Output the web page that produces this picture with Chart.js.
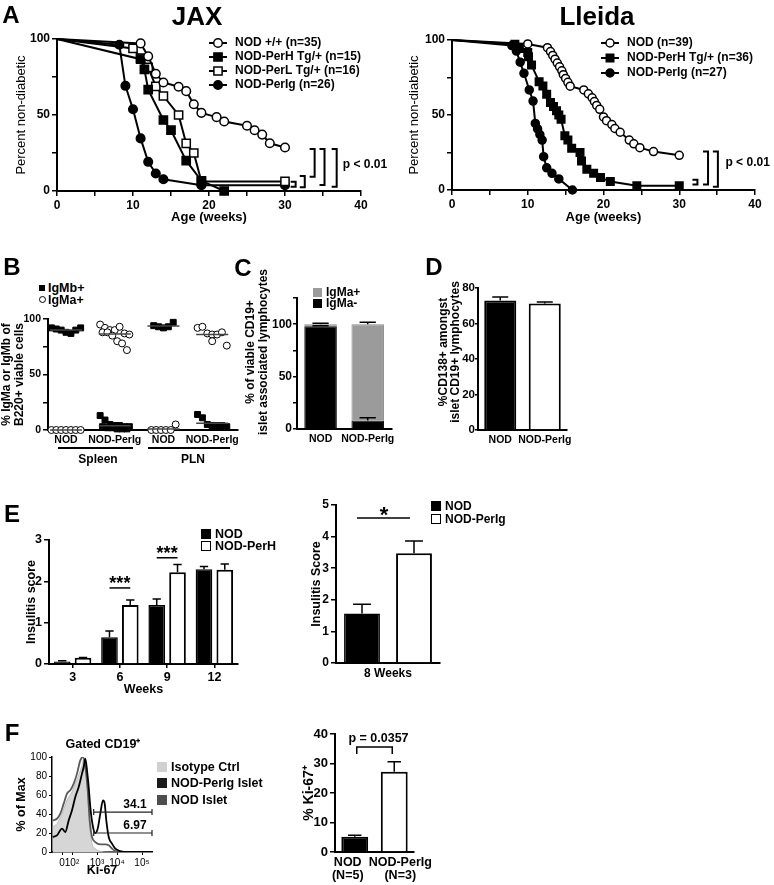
<!DOCTYPE html>
<html lang="en">
<head>
<meta charset="utf-8">
<title>Figure</title>
<script src="https://cdn.jsdelivr.net/npm/chart.js@4.4.1/dist/chart.umd.min.js"></script>
<style>
  html, body { margin: 0; padding: 0; background: #fff; }
  #fig { position: relative; width: 774px; height: 885px; overflow: hidden; background: #fff;
         font-family: 'Liberation Sans', Arial, sans-serif; color: #000; }
  #fig canvas { position: absolute; }
  .txt { position: absolute; white-space: nowrap; font-weight: bold; line-height: 1; }
  .mid { transform: translate(-50%, -50%); }
  .lft { transform: translateY(-50%); }
  .vert { transform: translate(-50%, -50%) rotate(-90deg); }
  .sw { position: absolute; box-sizing: border-box; }
  .rule { position: absolute; height: 0; border-top: 2px solid #000; }
</style>
</head>
<body>
<div id="fig">
  <canvas id="jaxChart"></canvas>
  <canvas id="lleidaChart"></canvas>
  <canvas id="igmChart"></canvas>
  <canvas id="isletChart"></canvas>
  <canvas id="cd138Chart"></canvas>
  <canvas id="insulitisChart"></canvas>
  <canvas id="insulitis8Chart"></canvas>
  <canvas id="histChart"></canvas>
  <canvas id="ki67Chart"></canvas>
</div>
<script>
// --- Panel A: percent non-diabetic, JAX colony ---
const jaxNodWeeks   = [0, 11, 12, 13, 14, 16, 17, 18, 19, 21, 22, 25, 26, 27, 28, 30];
const jaxNodPct     = [100, 97.1, 88.6, 77.1, 71.4, 68.6, 65.7, 57.1, 51.4, 48.6, 45.7, 42.9, 40.0, 37.1, 31.4, 28.6];
const jaxPerHWeeks  = [0, 11, 11.5, 12, 14, 15, 17, 19, 22];
const jaxPerHPct    = [100, 86.7, 80.0, 66.7, 46.7, 40.0, 20.0, 6.7, 0];
const jaxPerLWeeks  = [0, 10, 11, 12, 13, 14, 16, 17, 18, 19, 30];
const jaxPerLPct    = [100, 93.8, 87.5, 81.3, 68.8, 62.5, 50.0, 31.3, 25.0, 6.3, 6.3];
const jaxPerIgWeeks = [0, 8.2, 9, 10, 11, 12, 13, 14, 19, 30];
const jaxPerIgPct   = [100, 96.2, 69.2, 53.8, 34.6, 19.2, 11.5, 7.7, 3.8, 3.8];

// --- Panel A: Lleida colony ---
const lleNodWeeks   = [0, 10, 12.6, 13, 13.3, 13.6, 13.9, 14.2, 14.5, 14.7, 15, 15.3, 15.6, 17.4, 18, 18.5, 18.8, 19.1, 19.5, 20, 20.4, 21.1, 21.5, 22.2, 23.4, 24, 24.8, 26.6, 30];
const lleNodPct     = [100, 97.4, 94.9, 92.3, 89.7, 87.2, 84.6, 82.1, 79.5, 76.9, 74.4, 71.8, 69.2, 66.7, 64.1, 61.5, 59.0, 56.4, 53.8, 48.7, 46.2, 43.6, 41.0, 38.5, 33.3, 30.8, 28.2, 25.6, 23.1];
const llePerHWeeks  = [0, 8.3, 8.9, 10.0, 10.1, 10.5, 11.5, 12.0, 12.5, 13.0, 13.4, 13.8, 14.1, 14.4, 14.9, 15.3, 15.8, 16.9, 17.1, 17.8, 18.7, 19.6, 20.9, 24.4, 30];
const llePerHPct    = [100, 97.2, 94.4, 91.7, 88.9, 83.3, 72.2, 69.4, 63.9, 58.3, 55.6, 52.8, 50.0, 47.2, 36.1, 33.3, 27.8, 25.0, 19.4, 13.9, 11.1, 8.3, 5.6, 2.8, 2.8];
const llePerIgWeeks = [0, 7.9, 8.5, 9.0, 9.5, 10.2, 10.7, 11.0, 11.3, 11.6, 11.9, 12.1, 12.5, 13.2, 14.1, 15.9];
const llePerIgPct   = [100, 96.3, 92.6, 85.2, 77.8, 66.7, 59.3, 44.4, 40.7, 37.0, 33.3, 22.2, 14.8, 11.1, 7.4, 0];

// --- Panel B: IgMa / IgMb allotype, one value per mouse ---
const igmGroups = ['NOD', 'NOD-PerIg', 'NOD', 'NOD-PerIg'];
const igmbPct = [
  [92, 91, 90, 88, 87, 90, 92],
  [13, 9, 5, 4, 4, 3, 3, 3, 2, 2, 1, 1, 1],
  [94, 93, 92, 93, 97],
  [14, 11, 5, 4, 4, 4, 3, 4]
];
const igmaPct = [
  [0, 0, 0, 0, 0, 0, 0],
  [95, 92, 90, 90, 93, 87, 86, 88, 88, 85, 80, 78, 72],
  [0, 0, 0, 0, 0, 5],
  [92, 93, 87, 86, 86, 88, 76, 80]
];

// --- Panel C: islet CD19+ cells ---
const isletGroups = ['NOD', 'NOD-PerIg'];
const isletIgmaNeg = [98, 8];
const isletIgmaNegErr = [0.6, 2.8];
const isletIgmaPos = [2, 92];
const isletIgmaPosErr = [1.0, 1.8];

// --- Panel D: CD138+ ---
const cd138Groups = ['NOD', 'NOD-PerIg'];
const cd138Pct = [73.0, 71.2];
const cd138Err = [1.9, 0.9];

// --- Panel E: insulitis ---
const insWeeks = ['3', '6', '9', '12'];
const insNod = [0.06, 0.65, 1.43, 2.29];
const insNodErr = [0.02, 0.15, 0.14, 0.07];
const insPerH = [0.15, 1.43, 2.22, 2.28];
const insPerHErr = [0.01, 0.12, 0.19, 0.14];
const ins8Label = ['8 Weeks'];
const ins8Nod = [1.57];
const ins8NodErr = [0.29];
const ins8PerIg = [3.47];
const ins8PerIgErr = [0.39];

// --- Panel F: Ki-67 histogram (x in display units of the biexponential axis) ---
const kiTickPos = [10, 20, 45, 65, 90];
const kiTickLabels = ['0', '10²', '10³', '10⁴', '10⁵'];
const kiIsoX   = [0.7, 5, 10, 15, 20, 23.3, 26.7, 30, 31.7, 33.3, 35.7, 37.7, 40, 43.3, 48.3, 55, 100];
const kiIsoY   = [26.3, 29.8, 40.4, 54.4, 63.2, 72, 80.7, 91.2, 98.2, 93, 65, 26.3, 8.8, 3.5, 0.7, 0, 0];
const kiNodX   = [0.7, 5, 8.3, 11.7, 15, 18.3, 21.7, 25, 28.3, 31, 33.3, 35.7, 37.7, 40, 43.3, 48.3, 53.3, 56.7, 60, 63.3, 68.3, 100];
const kiNodY   = [33.3, 35, 40.4, 50.9, 61.4, 65, 72, 82.5, 96.5, 100, 89.5, 65, 33.3, 15.8, 10.5, 8, 8, 7, 3.5, 1, 0, 0];
const kiPerIgX = [0.7, 5, 10, 13.3, 16.7, 20, 23.3, 26.7, 30, 31.7, 33.3, 35, 36.7, 38.3, 41, 43.3, 45.7, 48.3, 51, 52.7, 54.3, 56.7, 60, 63.3, 68.3, 75, 100];
const kiPerIgY = [15.8, 17.5, 24.6, 21, 33.3, 43.9, 57.9, 68.4, 82.5, 89.5, 98.2, 86, 68.4, 47.4, 26.3, 20, 24.6, 40.4, 54.4, 50.9, 33.3, 15.8, 8.8, 3.5, 1, 0, 0];
const kiGates = [{ y: 42, label: '34.1' }, { y: 20, label: '6.97' }];
const kiGroups = [['NOD', '(N=5)'], ['NOD-PerIg', '(N=3)']];
const kiPct = [5.2, 27.2];
const kiErr = [0.5, 3.4];


const FONT = "'Liberation Sans', Arial, sans-serif";
Chart.defaults.font.family = FONT;
Chart.defaults.color = '#000';

const fig = document.getElementById('fig');

// --- small DOM helpers for the free text ---
function addText(str, x, y, size, align) {
  const d = document.createElement('div');
  d.className = 'txt ' + (align === 'left' ? 'lft' : align === 'vert' ? 'vert' : 'mid');
  d.style.left = x + 'px';
  d.style.top = y + 'px';
  d.style.fontSize = size + 'px';
  d.textContent = str;
  fig.appendChild(d);
}
function addSwatch(x, y, w, h, fill, border, round) {
  const d = document.createElement('div');
  d.className = 'sw';
  Object.assign(d.style, { left: x + 'px', top: y + 'px', width: w + 'px', height: h + 'px',
    background: fill, border: border || 'none', borderRadius: round ? '50%' : '0' });
  fig.appendChild(d);
}
function addRule(x1, x2, y) {
  const d = document.createElement('div');
  d.className = 'rule';
  Object.assign(d.style, { left: x1 + 'px', top: y + 'px', width: (x2 - x1) + 'px' });
  fig.appendChild(d);
}
function boxLegend(x, y, gap, size, entries, fontSize) {
  entries.forEach((e, i) => {
    const cy = y + i * gap;
    addSwatch(x, cy - size / 2, size, size, e.fill, e.border);
    addText(e.label, x + size + 4, cy, fontSize, 'left');
  });
}

// deep merge, enough for option objects
function merge(a, b) {
  const out = Object.assign({}, a);
  for (const k in b) {
    const v = b[k];
    if (v && typeof v === 'object' && !Array.isArray(v) && a[k] && typeof a[k] === 'object') out[k] = merge(a[k], v);
    else out[k] = v;
  }
  return out;
}

// put a canvas on the page and pin its plot area to the given pixels
function setup(id, box, plot) {
  const cv = document.getElementById(id);
  cv.width = box.w;
  cv.height = box.h;
  cv.style.left = box.x + 'px';
  cv.style.top = box.y + 'px';
  return {
    canvas: cv,
    box: box,
    padding: { left: 0, top: plot.y0 - box.y, right: box.x + box.w - plot.x1, bottom: 0 },
    fitY: s => { s.width = plot.x0 - box.x; },
    fitX: s => { s.height = box.y + box.h - plot.y1; }
  };
}

function axis(extra) {
  return merge({
    border: { color: '#000', width: 2 },
    grid: { drawOnChartArea: false, color: '#000', tickLength: 5, lineWidth: 1.5 },
    ticks: { color: '#000', padding: 2, font: { size: 12, weight: 'bold' }, maxRotation: 0, minRotation: 0, autoSkip: false }
  }, extra || {});
}

function baseOptions(f, scales) {
  return {
    responsive: false,
    animation: false,
    events: [],
    layout: { padding: f.padding },
    plugins: { legend: { display: false }, tooltip: { enabled: false } },
    scales: scales
  };
}

// up-only error bars, Prism style
const errorBars = {
  id: 'errorBars',
  afterDatasetsDraw(chart) {
    const ctx = chart.ctx;
    const y = chart.scales.y;
    chart.data.datasets.forEach((ds, i) => {
      if (!ds.err) return;
      chart.getDatasetMeta(i).data.forEach((bar, j) => {
        const e = ds.err[j];
        if (!e) return;
        const top = bar.y - (y.getPixelForValue(0) - y.getPixelForValue(e));
        const cap = bar.width * 0.25;
        ctx.save();
        ctx.strokeStyle = '#000';
        ctx.lineWidth = 1.5;
        ctx.beginPath();
        ctx.moveTo(bar.x, bar.y);
        ctx.lineTo(bar.x, top);
        ctx.moveTo(bar.x - cap, top);
        ctx.lineTo(bar.x + cap, top);
        ctx.stroke();
        ctx.restore();
      });
    });
  }
};

// --- Panel A charts ---
function kmSeries(label, weeks, pct, marker, fill, r) {
  return {
    label: label,
    data: weeks.map((w, i) => ({ x: w, y: pct[i] })),
    borderColor: '#000',
    borderWidth: 2,
    tension: 0,
    clip: false,
    pointStyle: marker,
    pointRadius: c => (c.dataIndex === 0 ? 0 : r),
    legendR: r,
    pointBackgroundColor: fill,
    pointBorderColor: '#000',
    pointBorderWidth: 1.5
  };
}

function lineLegend(px, py, gap, box) {
  return {
    id: 'lineLegend',
    afterDraw(chart) {
      const ctx = chart.ctx;
      chart.data.datasets.forEach((ds, i) => {
        const cx = px - box.x, cy = py - box.y + i * gap;
        ctx.save();
        ctx.strokeStyle = '#000';
        ctx.lineWidth = 2;
        ctx.beginPath();
        ctx.moveTo(cx - 9, cy);
        ctx.lineTo(cx + 9, cy);
        ctx.stroke();
        ctx.lineWidth = 1.5;
        ctx.fillStyle = ds.pointBackgroundColor;
        ctx.beginPath();
        if (ds.pointStyle === 'rect') {
          const h = ds.legendR * Math.SQRT1_2;
          ctx.rect(cx - h, cy - h, 2 * h, 2 * h);
        } else {
          ctx.arc(cx, cy, ds.legendR, 0, Math.PI * 2);
        }
        ctx.fill();
        ctx.stroke();
        ctx.fillStyle = '#000';
        ctx.font = 'bold 12px ' + FONT;
        ctx.textBaseline = 'middle';
        ctx.textAlign = 'left';
        ctx.fillText(ds.label, cx + 17, cy);
        ctx.restore();
      });
    }
  };
}

function bracketPlugin(brackets, pos) {
  return {
    id: 'brackets',
    afterDatasetsDraw(chart) {
      const { ctx, scales: { x, y } } = chart;
      ctx.save();
      ctx.strokeStyle = '#000';
      ctx.lineWidth = 2;
      brackets.forEach(b => {
        const bx = x.getPixelForValue(b.x);
        const t = y.getPixelForValue(b.top), btm = y.getPixelForValue(b.bottom);
        ctx.beginPath();
        ctx.moveTo(bx - 5, t);
        ctx.lineTo(bx, t);
        ctx.lineTo(bx, btm);
        ctx.lineTo(bx - 5, btm);
        ctx.stroke();
      });
      ctx.fillStyle = '#000';
      ctx.font = 'bold 12px ' + FONT;
      ctx.textAlign = 'left';
      ctx.textBaseline = 'middle';
      ctx.fillText('p < 0.01', x.getPixelForValue(pos.x), y.getPixelForValue(pos.y));
      ctx.restore();
    }
  };
}

function kmChart(id, box, plot, datasets, titlePad, legend, brackets, pPos) {
  const f = setup(id, box, plot);
  return new Chart(f.canvas, {
    type: 'line',
    data: { datasets: datasets },
    options: baseOptions(f, {
      x: axis({
        type: 'linear', min: 0, max: 40, afterFit: f.fitX,
        ticks: { stepSize: 5, callback: v => (v % 10 === 0 ? v : '') },
        title: { display: true, text: 'Age (weeks)', font: { size: 13, weight: 'bold' }, padding: { top: 0, bottom: 7 } }
      }),
      y: axis({
        min: 0, max: 100, afterFit: f.fitY,
        ticks: { stepSize: 25, callback: v => (v % 50 === 0 ? v : '') },
        title: { display: true, text: 'Percent non-diabetic', font: { size: 13, weight: 'normal' }, padding: { top: titlePad, bottom: 0 } }
      })
    }),
    plugins: [lineLegend(legend.x, legend.y, legend.gap, box), bracketPlugin(brackets, pPos)]
  });
}

kmChart('jaxChart', { x: 0, y: 25, w: 392, h: 207 }, { x0: 57, x1: 361, y0: 39, y1: 191 }, [
  kmSeries('NOD +/+ (n=35)', jaxNodWeeks, jaxNodPct, 'circle', '#fff', 4.3),
  kmSeries('NOD-PerH Tg/+ (n=15)', jaxPerHWeeks, jaxPerHPct, 'rect', '#000', 5.8),
  kmSeries('NOD-PerL Tg/+ (n=16)', jaxPerLWeeks, jaxPerLPct, 'rect', '#fff', 5.8),
  kmSeries('NOD-PerIg (n=26)', jaxPerIgWeeks, jaxPerIgPct, 'circle', '#000', 4.3)
], 14, { x: 218, y: 43, gap: 14 }, [
  { x: 31.4, top: 6.1, bottom: 2.8 },
  { x: 32.6, top: 9.9, bottom: 2.4 },
  { x: 33.9, top: 27.6, bottom: 9.4 },
  { x: 35.2, top: 27.6, bottom: 3.9 },
  { x: 36.8, top: 27.6, bottom: 2.8 }
], { x: 37.6, y: 17 });

kmChart('lleidaChart', { x: 392, y: 25, w: 382, h: 207 }, { x0: 452, x1: 755, y0: 40, y1: 190 }, [
  kmSeries('NOD (n=39)', lleNodWeeks, lleNodPct, 'circle', '#fff', 4),
  kmSeries('NOD-PerH Tg/+ (n=36)', llePerHWeeks, llePerHPct, 'rect', '#000', 5.3),
  kmSeries('NOD-PerIg (n=27)', llePerIgWeeks, llePerIgPct, 'circle', '#000', 4)
], 15, { x: 610, y: 43, gap: 15 }, [
  { x: 32.4, top: 6.9, bottom: 3.6 },
  { x: 33.8, top: 25.7, bottom: 3.6 },
  { x: 35.1, top: 25.7, bottom: 2.2 }
], { x: 36.1, y: 18.2 });

// --- Panel B: dot plot ---
function spread(i, n) {
  const row = Math.floor(i / 7);
  const inRow = Math.min(7, n - row * 7);
  return (i - row * 7 - (inRow - 1) / 2) * 0.1;
}
function dotSeries(label, groups, marker, fill, r) {
  return {
    label: label,
    groups: groups,
    data: groups.flatMap((vals, g) => vals.map((v, i) => ({ x: g + 1 + spread(i, vals.length), y: v }))),
    pointStyle: marker,
    pointRadius: r,
    pointBackgroundColor: fill,
    pointBorderColor: '#000',
    pointBorderWidth: 1,
    showLine: false,
    clip: false
  };
}
const meanLines = {
  id: 'meanLines',
  afterDatasetsDraw(chart) {
    const { ctx, scales: { x, y } } = chart;
    ctx.save();
    ctx.strokeStyle = '#444';
    ctx.lineWidth = 1.5;
    chart.data.datasets.forEach(ds => ds.groups.forEach((vals, g) => {
      const m = vals.reduce((a, b) => a + b, 0) / vals.length;
      const px = x.getPixelForValue(g + 1), py = y.getPixelForValue(m);
      ctx.beginPath();
      ctx.moveTo(px - 16, py);
      ctx.lineTo(px + 16, py);
      ctx.stroke();
    }));
    ctx.restore();
  }
};
(function () {
  const f = setup('igmChart', { x: 0, y: 300, w: 245, h: 150 }, { x0: 48, x1: 238, y0: 319, y1: 430 });
  new Chart(f.canvas, {
    type: 'scatter',
    data: { datasets: [
      dotSeries('IgMb+', igmbPct, 'rect', '#000', 4.2),
      dotSeries('IgMa+', igmaPct, 'circle', '#fff', 3.5)
    ] },
    options: baseOptions(f, {
      x: axis({
        type: 'linear', min: 0.63, max: 4.53, afterFit: f.fitX,
        afterBuildTicks: s => { s.ticks = igmGroups.map((g, i) => ({ value: i + 1 })); },
        grid: { display: false, drawTicks: false },
        ticks: { padding: 4, font: { size: 10.5 }, callback: (v, i) => igmGroups[i] }
      }),
      y: axis({
        min: 0, max: 100, afterFit: f.fitY,
        ticks: { stepSize: 25, font: { size: 10.5 }, callback: v => (v % 50 === 0 ? v : '') },
        title: { display: true, text: ['% IgMa or IgMb of', 'B220+ viable cells'], font: { size: 12, weight: 'bold', lineHeight: 1.1 }, padding: { top: 0, bottom: 0 } }
      })
    }),
    plugins: [meanLines]
  });
})();

// --- Panel C: stacked bars ---
(function () {
  const f = setup('isletChart', { x: 240, y: 285, w: 160, h: 165 }, { x0: 297, x1: 393, y0: 298, y1: 429 });
  new Chart(f.canvas, {
    type: 'bar',
    data: { labels: isletGroups, datasets: [
      { label: 'IgMa-', data: isletIgmaNeg, err: isletIgmaNegErr, backgroundColor: '#000', borderColor: '#000', borderWidth: 1, barPercentage: 0.69, categoryPercentage: 1 },
      { label: 'IgMa+', data: isletIgmaPos, err: isletIgmaPosErr, backgroundColor: '#9b9b9b', borderColor: '#8a8a8a', borderWidth: 1, barPercentage: 0.69, categoryPercentage: 1 }
    ] },
    options: baseOptions(f, {
      x: axis({
        stacked: true, afterFit: f.fitX,
        grid: { display: false, drawTicks: false },
        ticks: { padding: 4, font: { size: 10.5 } }
      }),
      y: axis({
        stacked: true, min: 0, max: 125, afterFit: f.fitY,
        grid: { tickLength: 4 },
        ticks: { stepSize: 25, padding: 1, callback: v => (v % 50 === 0 ? v : '') }
      })
    }),
    plugins: [errorBars]
  });
})();

// --- Panel D ---
(function () {
  const f = setup('cd138Chart', { x: 435, y: 275, w: 145, h: 175 }, { x0: 478, x1: 567, y0: 288, y1: 430 });
  new Chart(f.canvas, {
    type: 'bar',
    data: { labels: cd138Groups, datasets: [
      { label: '%CD138+', data: cd138Pct, err: cd138Err, backgroundColor: ['#000', '#fff'], borderColor: '#000', borderWidth: 2, barPercentage: 0.72, categoryPercentage: 1 }
    ] },
    options: baseOptions(f, {
      x: axis({
        afterFit: f.fitX,
        grid: { display: false, drawTicks: false },
        ticks: { padding: 4, font: { size: 10.5 } }
      }),
      y: axis({
        min: 0, max: 80, afterFit: f.fitY,
        grid: { tickLength: 3 },
        ticks: { stepSize: 20, padding: 0, font: { size: 11.5 } }
      })
    }),
    plugins: [errorBars]
  });
})();

// --- Panel E left: insulitis over time ---
const insSig = [{ cat: 1, y: 1.84 }, { cat: 2, y: 2.57 }];
(function () {
  const f = setup('insulitisChart', { x: 0, y: 525, w: 250, h: 175 }, { x0: 49, x1: 238, y0: 540, y1: 664 });
  const sig = {
    id: 'sig',
    afterDatasetsDraw(chart) {
      const { ctx, scales: { y } } = chart;
      ctx.save();
      ctx.strokeStyle = '#000';
      ctx.fillStyle = '#000';
      ctx.lineWidth = 1.5;
      ctx.font = 'bold 18px ' + FONT;
      ctx.textAlign = 'center';
      ctx.textBaseline = 'alphabetic';
      insSig.forEach(s => {
        const a = chart.getDatasetMeta(0).data[s.cat], b = chart.getDatasetMeta(1).data[s.cat];
        const py = y.getPixelForValue(s.y);
        ctx.beginPath();
        ctx.moveTo(a.x, py);
        ctx.lineTo(b.x, py);
        ctx.stroke();
        ctx.fillText('***', (a.x + b.x) / 2, py + 1);
      });
      ctx.restore();
    }
  };
  new Chart(f.canvas, {
    type: 'bar',
    data: { labels: insWeeks, datasets: [
      { label: 'NOD', data: insNod, err: insNodErr, backgroundColor: '#000', borderColor: '#000', borderWidth: 1.5, barPercentage: 0.8, categoryPercentage: 0.88 },
      { label: 'NOD-PerH', data: insPerH, err: insPerHErr, backgroundColor: '#fff', borderColor: '#000', borderWidth: 2, barPercentage: 0.8, categoryPercentage: 0.88 }
    ] },
    options: baseOptions(f, {
      x: axis({
        afterFit: f.fitX,
        grid: { offset: false, tickLength: 4 },
        ticks: { padding: 2, font: { size: 12.5 } },
        title: { display: true, text: 'Weeks', font: { size: 12.5, weight: 'bold' }, padding: { top: 0, bottom: 3 } }
      }),
      y: axis({
        min: 0, max: 3, afterFit: f.fitY,
        ticks: { stepSize: 1, font: { size: 12.5 } },
        title: { display: true, text: 'Insulitis score', font: { size: 12.5, weight: 'bold' }, padding: { top: 24, bottom: 0 } }
      })
    }),
    plugins: [errorBars, sig]
  });
})();

// --- Panel E right: 8 weeks ---
const ins8Sig = { y: 4.59 };
(function () {
  const f = setup('insulitis8Chart', { x: 300, y: 490, w: 180, h: 200 }, { x0: 336, x1: 440, y0: 505, y1: 663 });
  const sig = {
    id: 'sig8',
    afterDatasetsDraw(chart) {
      const { ctx, scales: { y } } = chart;
      const a = chart.getDatasetMeta(0).data[0], b = chart.getDatasetMeta(1).data[0];
      const py = y.getPixelForValue(ins8Sig.y);
      ctx.save();
      ctx.strokeStyle = '#000';
      ctx.fillStyle = '#000';
      ctx.lineWidth = 1.5;
      ctx.beginPath();
      ctx.moveTo(a.x - 5, py);
      ctx.lineTo(b.x - 4, py);
      ctx.stroke();
      ctx.font = 'bold 22px ' + FONT;
      ctx.textAlign = 'center';
      ctx.textBaseline = 'alphabetic';
      ctx.fillText('*', (a.x + b.x) / 2 - 4, py + 4);
      ctx.restore();
    }
  };
  new Chart(f.canvas, {
    type: 'bar',
    data: { labels: ins8Label, datasets: [
      { label: 'NOD', data: ins8Nod, err: ins8NodErr, backgroundColor: '#000', borderColor: '#000', borderWidth: 1.5, barPercentage: 0.69, categoryPercentage: 1 },
      { label: 'NOD-PerIg', data: ins8PerIg, err: ins8PerIgErr, backgroundColor: '#fff', borderColor: '#000', borderWidth: 2, barPercentage: 0.69, categoryPercentage: 1 }
    ] },
    options: baseOptions(f, {
      x: axis({
        afterFit: f.fitX,
        grid: { display: false, drawTicks: false },
        ticks: { padding: 3, font: { size: 12 } }
      }),
      y: axis({
        min: 0, max: 5, afterFit: f.fitY,
        ticks: { stepSize: 1, font: { size: 12 } },
        title: { display: true, text: 'Insulitis Score', font: { size: 12.5, weight: 'bold' }, padding: { top: 9, bottom: 0 } }
      })
    }),
    plugins: [errorBars, sig]
  });
})();

// --- Panel F left: Ki-67 histogram ---
(function () {
  const f = setup('histChart', { x: 0, y: 740, w: 160, h: 145 }, { x0: 52, x1: 152, y0: 757, y1: 852 });
  const xy = (xs, ys) => xs.map((x, i) => ({ x: x, y: ys[i] }));
  const gates = {
    id: 'gates',
    afterDatasetsDraw(chart) {
      const { ctx, scales: { x, y } } = chart;
      ctx.save();
      ctx.strokeStyle = '#222';
      ctx.fillStyle = '#000';
      ctx.lineWidth = 1.2;
      ctx.font = 'bold 12px ' + FONT;
      ctx.textAlign = 'center';
      ctx.textBaseline = 'bottom';
      kiGates.forEach(g => {
        const x1 = x.getPixelForValue(41.7), x2 = x.getPixelForValue(100), py = y.getPixelForValue(g.y);
        ctx.beginPath();
        ctx.moveTo(x1, py); ctx.lineTo(x2, py);
        ctx.moveTo(x1, py - 3); ctx.lineTo(x1, py + 3);
        ctx.moveTo(x2, py - 3); ctx.lineTo(x2, py + 3);
        ctx.stroke();
        ctx.fillText(g.label, x.getPixelForValue(83), py - 1);
      });
      ctx.restore();
    }
  };
  new Chart(f.canvas, {
    type: 'line',
    data: { datasets: [
      { label: 'NOD-PerIg Islet', data: xy(kiPerIgX, kiPerIgY), borderColor: '#000', borderWidth: 1.8, pointRadius: 0, cubicInterpolationMode: 'monotone', fill: false },
      { label: 'NOD Islet', data: xy(kiNodX, kiNodY), borderColor: '#5a5a5a', borderWidth: 1.8, pointRadius: 0, cubicInterpolationMode: 'monotone', fill: false },
      { label: 'Isotype Ctrl', data: xy(kiIsoX, kiIsoY), borderColor: '#bdbdbd', backgroundColor: '#d6d6d6', borderWidth: 1, pointRadius: 0, cubicInterpolationMode: 'monotone', fill: 'origin' }
    ] },
    options: baseOptions(f, {
      x: axis({
        type: 'linear', min: 0, max: 100, afterFit: f.fitX,
        border: { width: 1.5 },
        grid: { tickLength: 3, lineWidth: 1 },
        afterBuildTicks: s => { s.ticks = kiTickPos.map(v => ({ value: v })); },
        ticks: { padding: 2, font: { size: 10, weight: 'normal' }, callback: (v, i) => kiTickLabels[i] },
        title: { display: true, text: 'Ki-67', font: { size: 12.5, weight: 'bold' }, padding: { top: 0, bottom: 7 } }
      }),
      y: axis({
        min: 0, max: 100, afterFit: f.fitY,
        border: { width: 1.5 },
        grid: { tickLength: 3, lineWidth: 1 },
        ticks: { stepSize: 20, padding: 2, font: { size: 10, weight: 'normal' } },
        title: { display: true, text: '% of Max', font: { size: 12.5, weight: 'bold' }, padding: { top: 14, bottom: 0 } }
      })
    }),
    plugins: [gates]
  });
})();

// --- Panel F right: % Ki-67+ ---
const kiSig = { text: 'p = 0.0357', bracket: 35.6, leg: 33.2, textY: 38.4 };
(function () {
  const f = setup('ki67Chart', { x: 300, y: 720, w: 140, h: 165 }, { x0: 335, x1: 414, y0: 734, y1: 852 });
  const sig = {
    id: 'kiSig',
    afterDatasetsDraw(chart) {
      const { ctx, scales: { y } } = chart;
      const bars = chart.getDatasetMeta(0).data;
      const a = bars[0].x + 2, b = bars[1].x - 2;
      const py = y.getPixelForValue(kiSig.bracket), pl = y.getPixelForValue(kiSig.leg);
      ctx.save();
      ctx.strokeStyle = '#000';
      ctx.lineWidth = 1.5;
      ctx.beginPath();
      ctx.moveTo(a, pl); ctx.lineTo(a, py); ctx.lineTo(b, py); ctx.lineTo(b, pl);
      ctx.stroke();
      ctx.fillStyle = '#000';
      ctx.font = 'bold 12.5px ' + FONT;
      ctx.textAlign = 'center';
      ctx.textBaseline = 'middle';
      ctx.fillText(kiSig.text, (a + b) / 2 + 4, y.getPixelForValue(kiSig.textY));
      ctx.restore();
    }
  };
  // category names sit a little apart from the bar centres, as in the figure
  const groupLabels = {
    id: 'groupLabels',
    afterDraw(chart) {
      const ctx = chart.ctx;
      const bars = chart.getDatasetMeta(0).data;
      const shift = [-7, 6];
      ctx.save();
      ctx.fillStyle = '#000';
      ctx.font = 'bold 12.5px ' + FONT;
      ctx.textAlign = 'center';
      ctx.textBaseline = 'middle';
      chart.data.labels.forEach((lines, i) => lines.forEach((t, k) => {
        ctx.fillText(t, bars[i].x + shift[i], chart.chartArea.bottom + 11 + k * 13);
      }));
      ctx.restore();
    }
  };
  new Chart(f.canvas, {
    type: 'bar',
    data: { labels: kiGroups, datasets: [
      { label: '% Ki-67+', data: kiPct, err: kiErr, backgroundColor: ['#000', '#fff'], borderColor: '#000', borderWidth: 2, barPercentage: 0.68, categoryPercentage: 1 }
    ] },
    options: baseOptions(f, {
      x: axis({
        afterFit: f.fitX,
        grid: { display: false, drawTicks: false },
        ticks: { display: false }
      }),
      y: axis({
        min: 0, max: 40, afterFit: f.fitY,
        ticks: { stepSize: 10, font: { size: 13 } },
        title: { display: true, text: '% Ki-67⁺', font: { size: 14, weight: 'bold' }, padding: { top: 1, bottom: 0 } }
      })
    }),
    plugins: [errorBars, sig, groupLabels]
  });
})();

// --- free text: panel letters, titles, legends, group labels ---
[['A', 11, 15], ['B', 12, 267], ['C', 243, 268], ['D', 434, 267], ['E', 12, 514], ['F', 12, 733]]
  .forEach(p => addText(p[0], p[1], p[2], 24));
addText('JAX', 197, 16, 26);
addText('Lleida', 597, 16, 26);

// B legend
addSwatch(39, 285, 6, 6, '#000');
addText('IgMb+', 48, 288, 12.5, 'left');
addSwatch(39, 296, 7, 7, '#fff', '1px solid #000', true);
addText('IgMa+', 48, 300, 12.5, 'left');
// B tissue labels
addRule(58, 133, 447);
addRule(148, 230, 447);
addText('Spleen', 98, 459, 12);
addText('PLN', 193, 459, 12);

// C axis title and legend
addText('% of viable CD19+', 250, 352, 12, 'vert');
addText('islet associated lymphocytes', 263, 352, 12, 'vert');
boxLegend(313, 292, 11, 9, [
  { label: 'IgMa+', fill: '#9b9b9b' },
  { label: 'IgMa-', fill: '#000' }
], 12);

// D axis title
addText('%CD138+ amongst', 443, 352, 12, 'vert');
addText('islet CD19+ lymphocytes', 455, 352, 12, 'vert');

// E legends
boxLegend(201, 534, 12, 10, [
  { label: 'NOD', fill: '#000' },
  { label: 'NOD-PerH', fill: '#fff', border: '1.5px solid #000' }
], 12.5);
boxLegend(431, 506, 12.5, 10, [
  { label: 'NOD', fill: '#000' },
  { label: 'NOD-PerIg', fill: '#fff', border: '1.5px solid #000' }
], 12);

// F legend and title
addText('Gated CD19⁺', 103, 744, 12.5);
boxLegend(157, 767, 16.3, 10, [
  { label: 'Isotype Ctrl', fill: '#d0d0d0' },
  { label: 'NOD-PerIg Islet', fill: '#1a1a1a' },
  { label: 'NOD Islet', fill: '#4d4d4d' }
], 12.5);
</script>
</body>
</html>
